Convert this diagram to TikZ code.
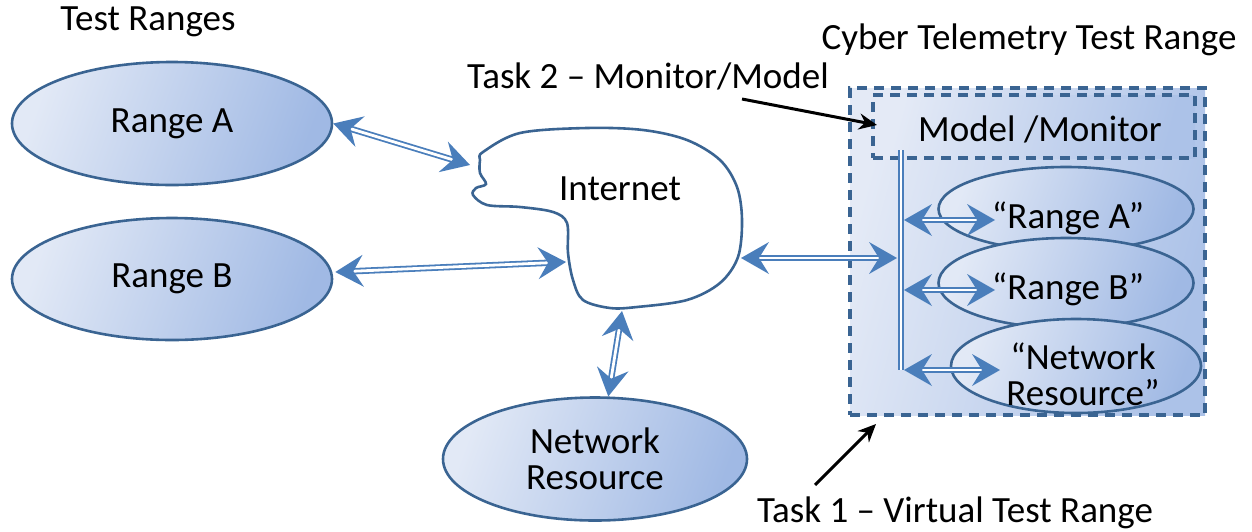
\documentclass[tikz,border=0pt]{standalone}
\usepackage{fontspec}
\setmainfont{Carlito}
\usetikzlibrary{arrows.meta,calc,shapes.geometric}
\definecolor{edgeblue}{RGB}{58,100,146}
\definecolor{arrblue}{RGB}{74,126,187}
\definecolor{fillA}{RGB}{226,233,246}
\definecolor{fillB}{RGB}{160,185,228}
\definecolor{boxA}{RGB}{228,234,246}
\definecolor{boxB}{RGB}{172,194,232}
\begin{document}
\begin{tikzpicture}[x=0.5pt,y=-0.5pt,
  txt/.style={font=\fontsize{18.5}{18}\selectfont, inner sep=0pt, align=center},
  oval/.style={ellipse, draw=edgeblue, line width=1.3pt, left color=fillA, right color=fillB, shading angle=70, inner sep=0pt, txt},
  dashbox/.style={draw=edgeblue, line width=1.6pt, dash pattern=on 5pt off 3.5pt, inner sep=0pt, left color=boxA, right color=boxB, shading angle=75},
  dbl/.style={draw=arrblue, double=white, double distance=1.4pt, line width=0.9pt, {Stealth[length=14pt,width=16pt,inset=5pt,line width=0pt]}-{Stealth[length=14pt,width=16pt,inset=5pt,line width=0pt]}},
  bar/.style={draw=arrblue, double=white, double distance=1.4pt, line width=0.9pt},
  task/.style={draw=black, line width=1.5pt, -{Stealth[length=9pt,width=8pt]}}
]
\useasboundingbox (0,0) rectangle (1252,531);

% left ranges
\node[oval, minimum width=160pt, minimum height=61.5pt] (rA) at (172,123.5) {Range A};
\node[oval, minimum width=160pt, minimum height=61pt] (rB) at (172,279) {Range B};
\node[oval, minimum width=152pt, minimum height=61.5pt] (nr) at (595,459) {Network\\Resource};

% cloud
\draw[draw=edgeblue, line width=1.3pt, fill=white] plot[smooth cycle, tension=0.55] coordinates {
 (483,152) (520,133) (587,128) (643,130) (687,140) (720,160) (737,187) (742,220) (738,257)
 (720,283) (687,300) (637,307) (610,308) (583,300) (573,280) (568,253) (567,223) (553,212)
 (520,207) (487,205) (473,195) (476,188) (486,184) (480,173) (480,160)};
\node[txt] (inet) at (620,189) {Internet};
\coordinate (cA) at (470,165);
\coordinate (cB) at (566,262);
\coordinate (cR) at (741,258);
\coordinate (cN) at (622,311);

% cyber range
\node[dashbox, minimum width=177.5pt, minimum height=163.5pt] (outer) at (1027.5,251.5) {};
\node[dashbox, minimum width=161pt, minimum height=31.5pt] (mm) at (1034,126.5) {};
\node[txt] (mmt) at (1040,129) {Model /Monitor};
\node[oval, minimum width=127.5pt, minimum height=42pt] (iA) at (1066,209) {};
\node[oval, minimum width=127.5pt, minimum height=45pt] (iB) at (1066,283) {};
\node[oval, minimum width=125pt, minimum height=47pt] (iN) at (1076,366) {};
\node[txt] (iAt) at (1068,218) {“Range A”};
\node[txt] (iBt) at (1068,289) {“Range B”};
\node[txt] (iNt) at (1083,374) {“Network\\Resource”};

\coordinate (barT) at (901,150);
\coordinate (barB) at (901,370);
\draw[bar] (barT) -- (barB);
\coordinate (b0) at (897,258);
\coordinate (b1) at (904,220);
\coordinate (b2) at (904,290);
\coordinate (b3) at (904,370);
\coordinate (e1) at (995,220);
\coordinate (e2) at (995,290);
\coordinate (e3) at (1000,370);

% connectors
\draw[dbl] (rA.east) -- (cA);
\draw[dbl] ($(rB.east)+(2,-7)$) -- (cB);
\draw[dbl] (cN) -- (nr.78);
\draw[dbl] (cR) -- (b0);
\draw[dbl] (b1) -- (e1);
\draw[dbl] (b2) -- (e2);
\draw[dbl] (b3) -- (e3);

% labels
\node[txt] (tr) at (148,22) {Test Ranges};
\node[txt] (ctr) at (1029,40) {Cyber Telemetry Test Range};
\node[txt] (t2) at (648,76) {Task 2 -- Monitor/Model};
\node[txt] (t1) at (955,513) {Task 1 -- Virtual Test Range};
\coordinate (t2s) at (742,99);
\coordinate (t2e) at (877,125);
\coordinate (t1s) at (815,485);
\coordinate (t1e) at (876,424);
\draw[task] (t2s) -- (t2e);
\draw[task] (t1s) -- (t1e);
\end{tikzpicture}
\end{document}
